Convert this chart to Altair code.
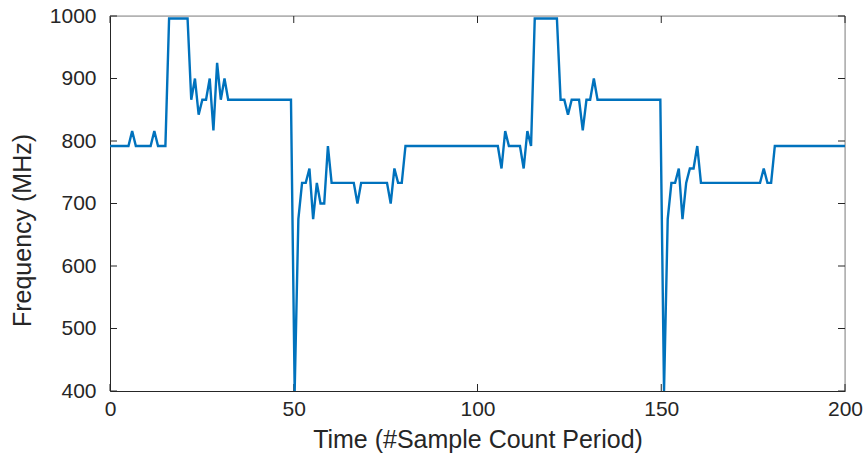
import altair as alt
import pandas as pd

# Frequency (MHz) per sample (200 samples spanning 0..200)
freq_part1 = [
    792, 792, 792, 792, 792, 792, 816, 792, 792, 792,
    792, 792, 816, 792, 792, 792, 996, 996, 996, 996,
    996, 996, 866, 900, 842, 866, 866, 900, 817, 925,
    866, 900, 866, 866, 866, 866, 866, 866, 866, 866,
    866, 866, 866, 866, 866, 866, 866, 866, 866, 866,
]
freq_part2 = [
    400, 675, 733, 733, 756, 675, 733, 700, 700, 792,
    733, 733, 733, 733, 733, 733, 733, 700, 733, 733,
    733, 733, 733, 733, 733, 733, 700, 756, 733, 733,
    792, 792, 792, 792, 792, 792, 792, 792, 792, 792,
    792, 792, 792, 792, 792, 792, 792, 792, 792, 792,
]
freq_part3 = [
    792, 792, 792, 792, 792, 792, 756, 816, 792, 792,
    792, 792, 756, 816, 792, 996, 996, 996, 996, 996,
    996, 996, 866, 866, 842, 866, 866, 866, 817, 866,
    866, 900, 866, 866, 866, 866, 866, 866, 866, 866,
    866, 866, 866, 866, 866, 866, 866, 866, 866, 866,
]
freq_part4 = [
    400, 675, 733, 733, 756, 675, 733, 756, 756, 792,
    733, 733, 733, 733, 733, 733, 733, 733, 733, 733,
    733, 733, 733, 733, 733, 733, 733, 756, 733, 733,
    792, 792, 792, 792, 792, 792, 792, 792, 792, 792,
    792, 792, 792, 792, 792, 792, 792, 792, 792, 792,
]
freq = freq_part1 + freq_part2 + freq_part3 + freq_part4
n = len(freq)
time = [i * 200 / (n - 1) for i in range(n)]

x_ticks = [0, 50, 100, 150, 200]
y_ticks = [400, 500, 600, 700, 800, 900, 1000]

df = pd.DataFrame({"time": time, "freq": freq})
xt = pd.DataFrame({"time": x_ticks})
yt = pd.DataFrame({"freq": y_ticks})
one = pd.DataFrame({"a": [0]})

W, H = 735, 375
TL = 7
AX = "#262626"
BOX = "#8a8a8a"
FONT = "Liberation Sans"

xs = alt.Scale(domain=[0, 200], nice=False, zero=False)
ys = alt.Scale(domain=[400, 1000], nice=False, zero=False)

xaxis = alt.Axis(
    values=x_ticks, format="d", title="Time (#Sample Count Period)", ticks=False, tickSize=0,
    domainColor=AX, domainWidth=1, labelFontSize=21, labelColor=AX, labelPadding=7,
    labelFlush=False, labelOverlap=False,
    titleFontSize=25, titleFontWeight="normal", titleColor=AX, titlePadding=8,
    grid=False, labelFont=FONT, titleFont=FONT)
yaxis = alt.Axis(
    values=y_ticks, format="d", title="Frequency (MHz)", ticks=False, tickSize=0,
    domainColor=AX, domainWidth=1, labelFontSize=21, labelColor=AX, labelPadding=14,
    labelFlush=False, labelOverlap=False,
    titleFontSize=25, titleFontWeight="normal", titleColor=AX,
    titleX=-88, titleY=214, titleAlign="center", titleBaseline="middle", titleAngle=-90,
    grid=False, labelFont=FONT, titleFont=FONT)

X = alt.X("time:Q", scale=xs, axis=xaxis)
Y = alt.Y("freq:Q", scale=ys, axis=yaxis)

bottom_ticks = alt.Chart(xt).mark_rule(color=AX, strokeWidth=1).encode(
    x=X, y=alt.value(H), y2=alt.value(H - TL))
top_ticks = alt.Chart(xt).mark_rule(color=AX, strokeWidth=1).encode(
    x=X, y=alt.value(0), y2=alt.value(TL))
left_ticks = alt.Chart(yt).mark_rule(color=AX, strokeWidth=1).encode(
    y=Y, x=alt.value(0), x2=alt.value(TL))
right_ticks = alt.Chart(yt).mark_rule(color=AX, strokeWidth=1).encode(
    y=Y, x=alt.value(W), x2=alt.value(W - TL))
top_line = alt.Chart(one).mark_rule(color=BOX, strokeWidth=1).encode(
    x=alt.value(0), x2=alt.value(W), y=alt.value(0))
right_line = alt.Chart(one).mark_rule(color=BOX, strokeWidth=1).encode(
    x=alt.value(W), y=alt.value(0), y2=alt.value(H))

line = alt.Chart(df).mark_line(color="#0072BD", strokeWidth=2.4, clip=True).encode(x=X, y=Y)

chart = alt.layer(
    top_line, right_line, bottom_ticks, top_ticks, left_ticks, right_ticks, line
).properties(
    width=W, height=H,
    autosize=alt.AutoSizeParams(type="none"),
    padding={"left": 110, "top": 16, "right": 19, "bottom": 67},
).configure_view(stroke=None).configure(font=FONT, background="white")

chart.save("out.html", embed_options={"renderer": "svg", "actions": False})
